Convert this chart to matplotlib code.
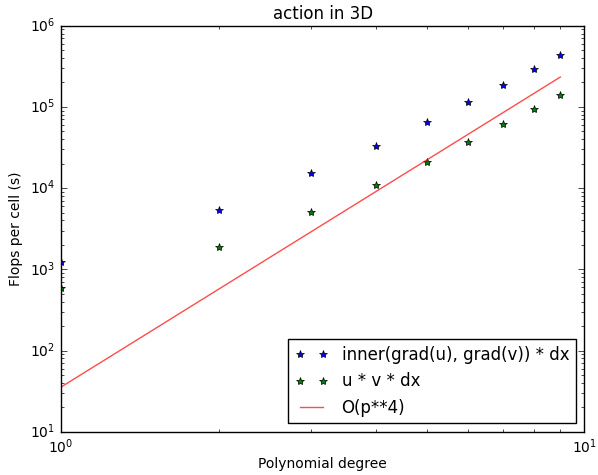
import matplotlib
matplotlib.use("Agg")
import matplotlib.pyplot as plt

plt.style.use("classic")
plt.rcParams["font.size"] = 10

# Polynomial degrees
degrees = [1, 2, 3, 4, 5, 6, 7, 8, 9]

# Flops per cell
stiffness_flops = [1245, 5400, 15300, 33000, 65000, 114000, 184000, 290000, 430000]
mass_flops = [583, 1880, 5080, 10900, 20900, 36600, 61100, 93400, 141000]

# Reference O(p**4) line
ref_flops = [35.5, 568, 2876, 9088, 22188, 46008, 85236, 145408, 232916]

fig = plt.figure(figsize=(5.98, 4.75), facecolor="white")
ax = fig.add_subplot(111)
fig.subplots_adjust(left=0.102, right=0.977, bottom=0.091, top=0.946)

ax.loglog(degrees, stiffness_flops, "b*", label="inner(grad(u), grad(v)) * dx")
ax.loglog(degrees, mass_flops, "g*", label="u * v * dx")
ax.loglog(degrees, ref_flops, "r-", alpha=0.7, label="O(p**4)")

ax.set_xlim(1, 10)
ax.set_ylim(10, 1e6)
ax.set_xlabel("Polynomial degree", fontsize=10, labelpad=1)
ax.set_ylabel("Flops per cell (s)", fontsize=10)
ax.set_title("action in 3D", fontsize=12)
ax.tick_params(labelsize=10)
ax.legend(loc="lower right", fontsize=12)

fig.savefig("out.png", dpi=100, facecolor="white")
